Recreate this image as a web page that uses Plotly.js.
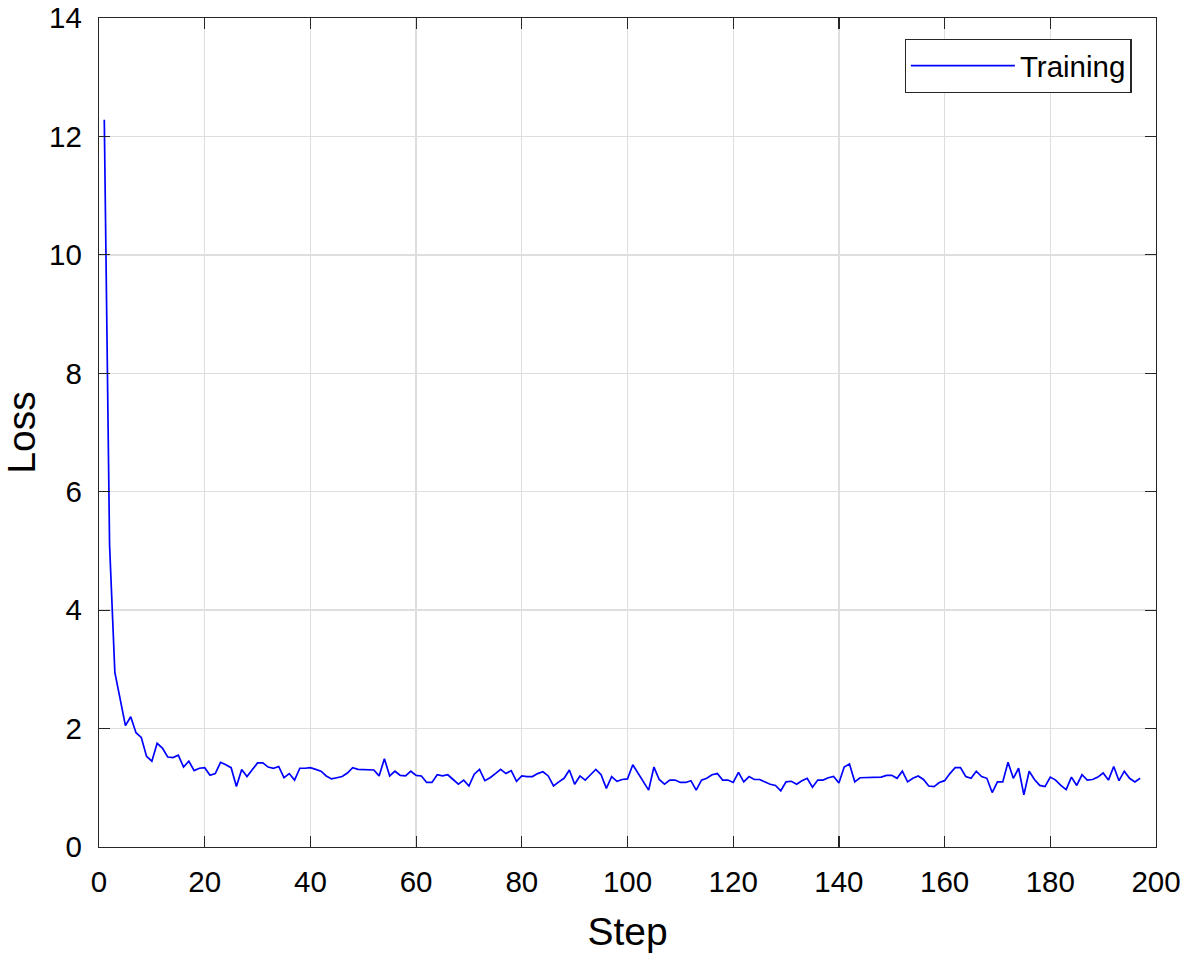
<!DOCTYPE html>
<html>
<head>
<meta charset="utf-8">
<script src="https://cdn.plot.ly/plotly-3.0.1.min.js"></script>
<style>
  html, body { margin: 0; padding: 0; background: #ffffff; }
  #chart { width: 1181px; height: 955px; }
</style>
</head>
<body>
<div id="chart"></div>
<script>
// Series name and axis labels
const seriesName = "Training";
const xLabel = "Step";
const yLabel = "Loss";

// First step index and step increment
const firstStep = 1;
const stepIncrement = 1;

// Training loss per step (steps 1..197)
const lossValues = [
  12.28, 5.10, 2.95, 2.50, 2.05, 2.20, 1.93, 1.85, 1.53, 1.45,
  1.75, 1.67, 1.52, 1.51, 1.55, 1.35, 1.45, 1.29, 1.33, 1.34,
  1.21, 1.24, 1.43, 1.39, 1.34, 1.02, 1.31, 1.19, 1.31, 1.42,
  1.42, 1.35, 1.33, 1.36, 1.17, 1.24, 1.13, 1.33, 1.33, 1.34,
  1.31, 1.28, 1.20, 1.15, 1.17, 1.19, 1.25, 1.34, 1.31, 1.31,
  1.30, 1.30, 1.20, 1.49, 1.20, 1.28, 1.21, 1.20, 1.28, 1.21,
  1.20, 1.09, 1.09, 1.22, 1.20, 1.22, 1.14, 1.06, 1.13, 1.03,
  1.23, 1.31, 1.12, 1.17, 1.24, 1.31, 1.24, 1.29, 1.11, 1.20,
  1.19, 1.19, 1.24, 1.27, 1.20, 1.03, 1.10, 1.16, 1.30, 1.06,
  1.20, 1.13, 1.22, 1.31, 1.22, 0.99, 1.19, 1.11, 1.14, 1.15,
  1.39, 1.25, 1.10, 0.96, 1.35, 1.14, 1.06, 1.13, 1.13, 1.09,
  1.09, 1.12, 0.96, 1.13, 1.16, 1.22, 1.24, 1.13, 1.13, 1.09,
  1.26, 1.10, 1.19, 1.14, 1.14, 1.10, 1.06, 1.04, 0.95, 1.10,
  1.11, 1.06, 1.12, 1.16, 1.01, 1.13, 1.13, 1.17, 1.19, 1.08,
  1.35, 1.40, 1.10, 1.17, 1.17, 1.17, 1.17, 1.18, 1.21, 1.21,
  1.16, 1.28, 1.10, 1.16, 1.20, 1.14, 1.03, 1.02, 1.09, 1.12,
  1.24, 1.34, 1.34, 1.19, 1.16, 1.28, 1.19, 1.16, 0.92, 1.10,
  1.10, 1.43, 1.16, 1.33, 0.88, 1.28, 1.14, 1.04, 1.02, 1.18,
  1.13, 1.04, 0.97, 1.18, 1.04, 1.22, 1.13, 1.14, 1.18, 1.25,
  1.13, 1.36, 1.12, 1.28, 1.16, 1.10, 1.16
];

// Axis ranges and tick spacing
const xRange = [0, 200];
const xTickStep = 20;
const yRange = [0, 14];
const yTickStep = 2;

const FONT = "Liberation Sans, Arial, Helvetica, sans-serif";
const AXIS_COLOR = "#262626";
const GRID_COLOR = "#dedede";

const trace = {
  type: "scatter",
  mode: "lines",
  name: seriesName,
  x0: firstStep,
  dx: stepIncrement,
  y: lossValues,
  line: { color: "#0000ff", width: 1.7 },
  showlegend: true
};

const axisCommon = {
  showline: true,
  linecolor: AXIS_COLOR,
  linewidth: 1.2,
  mirror: "ticks",
  ticks: "inside",
  ticklen: 11,
  tickwidth: 1.2,
  tickcolor: AXIS_COLOR,
  showgrid: true,
  gridcolor: GRID_COLOR,
  gridwidth: 1.3,
  zeroline: false,
  ticklabeloverflow: "allow",
  tickfont: { family: FONT, size: 29.5, color: "#000000" }
};

const layout = {
  width: 1181,
  height: 955,
  paper_bgcolor: "#ffffff",
  plot_bgcolor: "#ffffff",
  margin: { l: 99, r: 25, t: 18, b: 108, pad: 0 },
  font: { family: FONT, color: "#000000" },
  xaxis: Object.assign({}, axisCommon, {
    range: xRange,
    tick0: 0,
    dtick: xTickStep,
    ticklabelstandoff: 8,
    title: { text: xLabel, font: { family: FONT, size: 39, color: "#000000" }, standoff: 21 }
  }),
  yaxis: Object.assign({}, axisCommon, {
    range: yRange,
    tick0: 0,
    dtick: yTickStep,
    ticklabelstandoff: 10,
    title: { text: yLabel, font: { family: FONT, size: 39, color: "#000000" }, standoff: 22 }
  }),
  legend: {
    x: 0.977,
    y: 0.975,
    xanchor: "right",
    yanchor: "top",
    bgcolor: "#ffffff",
    bordercolor: AXIS_COLOR,
    borderwidth: 1.2,
    font: { family: FONT, size: 29.5, color: "#000000" },
    itemwidth: 104,
    tracegroupgap: 0
  },
  showlegend: true
};

Plotly.newPlot("chart", [trace], layout, { displayModeBar: false, staticPlot: true });
</script>
</body>
</html>
